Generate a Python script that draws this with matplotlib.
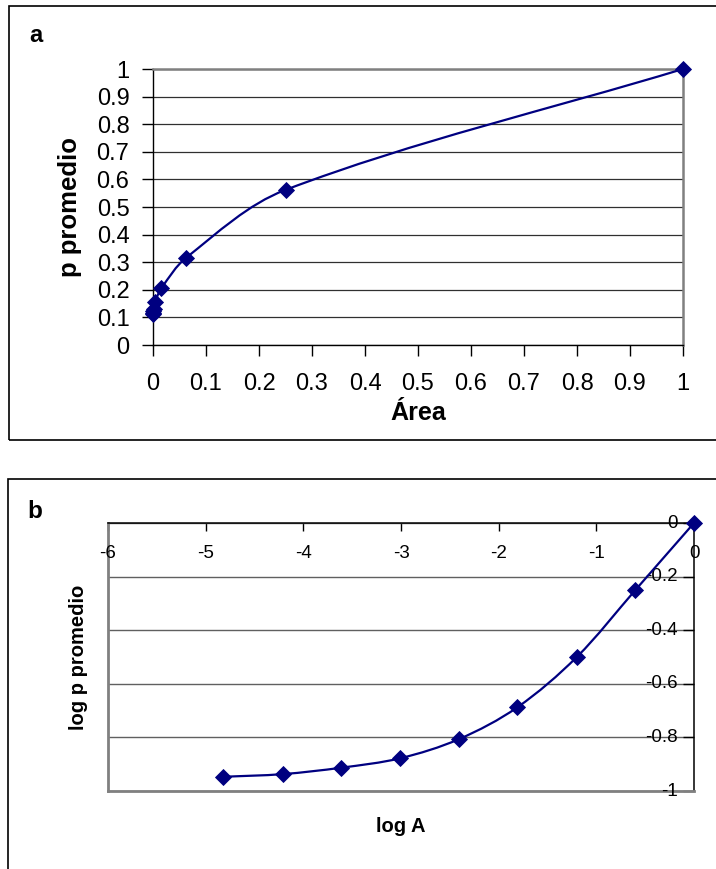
import matplotlib
matplotlib.use('Agg')
import matplotlib.pyplot as plt
from matplotlib.path import Path
from matplotlib.patches import PathPatch, Rectangle
from matplotlib.transforms import offset_copy
import numpy as np

plt.rcParams['font.family'] = ['Liberation Sans', 'DejaVu Sans']

# ---------------- data ----------------
# Panel a: p promedio vs Área
area = [0.0000153, 0.000061, 0.000244, 0.000977, 0.0039, 0.0156, 0.0625, 0.25, 1.0]
p_promedio = [0.113, 0.116, 0.122, 0.132, 0.156, 0.205, 0.316, 0.562, 1.0]

# Panel b: log p promedio vs log A
log_A = [-4.82, -4.21, -3.61, -3.01, -2.41, -1.81, -1.20, -0.60, 0.0]
log_p = [-0.947, -0.937, -0.913, -0.878, -0.807, -0.688, -0.500, -0.250, 0.0]

a_xticks = [0.0, 0.1, 0.2, 0.3, 0.4, 0.5, 0.6, 0.7, 0.8, 0.9, 1.0]
a_xticklabels = ['0', '0.1', '0.2', '0.3', '0.4', '0.5', '0.6', '0.7', '0.8', '0.9', '1']
a_yticks = [0.0, 0.1, 0.2, 0.3, 0.4, 0.5, 0.6, 0.7, 0.8, 0.9, 1.0]
a_yticklabels = ['0', '0.1', '0.2', '0.3', '0.4', '0.5', '0.6', '0.7', '0.8', '0.9', '1']

b_xticks = [-6, -5, -4, -3, -2, -1, 0]
b_xticklabels = ['-6', '-5', '-4', '-3', '-2', '-1', '0']
b_yticks = [0, -0.2, -0.4, -0.6, -0.8, -1.0]
b_yticklabels = ['0', '-0.2', '-0.4', '-0.6', '-0.8', '-1']

NAVY = '#000080'
W, H = 716, 869


def smooth_path(ax, x, y):
    """Smoothed (Bezier) line through the points, built in display space."""
    pts = ax.transData.transform(np.column_stack([x, y]).astype(float))
    n = len(pts)
    tang = []
    for i in range(n):
        a = pts[max(i - 1, 0)]
        b = pts[min(i + 1, n - 1)]
        d = b - a
        tang.append(d / np.hypot(*d))
    verts = [pts[0]]
    codes = [Path.MOVETO]
    for i in range(n - 1):
        L = np.hypot(*(pts[i + 1] - pts[i]))
        c1 = pts[i] + tang[i] * L / 3.0
        c2 = pts[i + 1] - tang[i + 1] * L / 3.0
        verts += [c1, c2, pts[i + 1]]
        codes += [Path.CURVE4] * 3
    verts = ax.transData.inverted().transform(np.array(verts))
    return Path(verts, codes)


def fx(px):
    return px / W


def fy(py):
    return 1 - py / H


fig = plt.figure(figsize=(W / 100, H / 100), dpi=100)

# outer frames
fig.add_artist(Rectangle((fx(9), fy(440)), fx(730 - 9), (440 - 6) / H,
                         transform=fig.transFigure, fill=False, ec='black',
                         lw=1.2, clip_on=False))
fig.add_artist(Rectangle((fx(8), fy(900)), fx(730 - 8), (900 - 479) / H,
                         transform=fig.transFigure, fill=False, ec='black',
                         lw=1.2, clip_on=False))

# ---------------- panel a ----------------
axa = fig.add_axes([fx(153), fy(345), (683 - 153) / W, (345 - 69) / H])
axa.set_xlim(0, 1)
axa.set_ylim(0, 1)
axa.set_axisbelow(True)
axa.yaxis.grid(True, color='#303030', lw=0.9)
axa.xaxis.grid(False)
for s in ['left', 'bottom']:
    axa.spines[s].set_color('black')
    axa.spines[s].set_linewidth(1.0)
for s in ['top', 'right']:
    axa.spines[s].set_color('#808080')
    axa.spines[s].set_linewidth(1.8)
axa.set_xticks(a_xticks)
axa.set_xticklabels(a_xticklabels)
axa.set_yticks(a_yticks)
axa.set_yticklabels(a_yticklabels)
axa.tick_params(axis='both', direction='out', length=8, width=1, labelsize=17)
axa.tick_params(axis='x', pad=12)
axa.tick_params(axis='y', pad=9)
axa.add_patch(PathPatch(smooth_path(axa, area, p_promedio), fill=False,
                        ec=NAVY, lw=1.6, clip_on=False, zorder=3))
axa.plot(area, p_promedio, ls='none', marker='D', ms=7.8, color=NAVY,
         mec=NAVY, mew=0.6, clip_on=False, zorder=4)

fig.text(fx(70), fy(207), 'p promedio', rotation=90, ha='center', va='center',
         fontsize=18.5, fontweight='bold')
fig.text(fx(418), fy(413), 'Área', ha='center', va='center',
         fontsize=18, fontweight='bold')
fig.text(fx(29), fy(42), 'a', ha='left', va='baseline',
         fontsize=17, fontweight='bold')

# ---------------- panel b ----------------
axb = fig.add_axes([fx(108), fy(791), (694 - 108) / W, (791 - 523) / H])
axb.set_xlim(-6, 0)
axb.set_ylim(-1, 0)
axb.set_axisbelow(True)
axb.set_xticks(b_xticks)
axb.set_yticks(b_yticks)
axb.yaxis.grid(True, color='#606060', lw=1.0)
axb.xaxis.grid(False)
for s in ['top', 'right']:
    axb.spines[s].set_color('black')
    axb.spines[s].set_linewidth(1.1)
for s in ['left', 'bottom']:
    axb.spines[s].set_color('#808080')
    axb.spines[s].set_linewidth(2.0)
axb.tick_params(axis='x', top=True, bottom=False, labeltop=False,
                labelbottom=False, direction='in', length=6, width=1)
axb.tick_params(axis='y', left=False, right=True, labelleft=False,
                labelright=False, direction='in', length=8, width=1)

tx = offset_copy(axb.get_xaxis_transform(), fig=fig, x=0, y=-31, units='dots')
for v, s in zip(b_xticks, b_xticklabels):
    axb.text(v, 1, s, transform=tx, ha='center', va='center', fontsize=13.5)
ty = offset_copy(axb.get_yaxis_transform(), fig=fig, x=-16, y=0, units='dots')
for v, s in zip(b_yticks, b_yticklabels):
    axb.text(1, v, s, transform=ty, ha='right', va='center', fontsize=13.5)

axb.add_patch(PathPatch(smooth_path(axb, log_A, log_p), fill=False, ec=NAVY,
                        lw=1.6, clip_on=False, zorder=3))
axb.plot(log_A, log_p, ls='none', marker='D', ms=8.3, color=NAVY,
         mec=NAVY, mew=0.6, clip_on=False, zorder=4)

fig.text(fx(78), fy(657), 'log p promedio', rotation=90, ha='center',
         va='center', fontsize=14.5, fontweight='bold')
fig.text(fx(401), fy(826), 'log A', ha='center', va='center',
         fontsize=14.5, fontweight='bold')
fig.text(fx(27), fy(518), 'b', ha='left', va='baseline',
         fontsize=17.5, fontweight='bold')

fig.savefig('out.png', dpi=100)
